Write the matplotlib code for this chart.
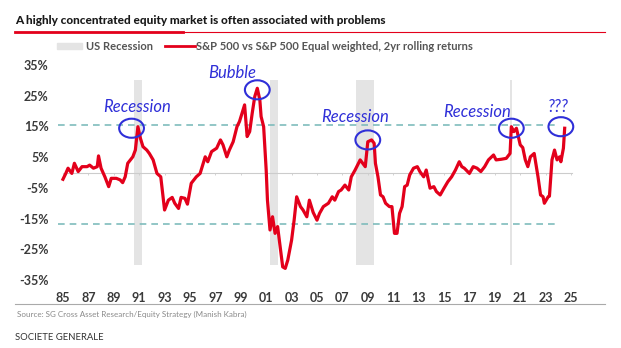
import numpy as np
import matplotlib
matplotlib.use("Agg")
import matplotlib.pyplot as plt
from matplotlib.patches import Ellipse, Rectangle
from matplotlib.lines import Line2D

plt.rcParams['font.family'] = ['Lato', 'DejaVu Sans']

# Rolling 2yr relative return, S&P 500 vs S&P 500 equal weighted (%)
years = [1985.0, 1985.2, 1985.4, 1985.7, 1985.9, 1986.2, 1986.5, 1986.9, 1987.1, 1987.4,
         1987.7, 1987.8, 1988.0, 1988.3, 1988.6, 1988.8, 1989.2, 1989.5, 1989.7, 1989.9,
         1990.1, 1990.5, 1990.7, 1990.9, 1991.1, 1991.3, 1991.6, 1991.8, 1992.1, 1992.4,
         1992.7, 1993.0, 1993.3, 1993.6, 1993.8, 1994.1, 1994.3, 1994.6, 1994.8, 1995.1,
         1995.5, 1995.8, 1996.2, 1996.4, 1996.7, 1997.1, 1997.4, 1997.6, 1997.9, 1998.1,
         1998.4, 1998.7, 1998.9, 1999.1, 1999.3, 1999.5, 1999.7, 1999.9, 2000.1, 2000.3,
         2000.5, 2000.6, 2000.8, 2001.0, 2001.1, 2001.3, 2001.5, 2001.7, 2001.9, 2002.1,
         2002.3, 2002.5, 2002.7, 2003.0, 2003.2, 2003.4, 2003.7, 2003.9, 2004.2, 2004.4,
         2004.7, 2005.0, 2005.2, 2005.5, 2005.9, 2006.2, 2006.4, 2006.7, 2006.9, 2007.2,
         2007.5, 2007.7, 2008.0, 2008.4, 2008.6, 2008.8, 2009.0, 2009.3, 2009.5, 2009.6,
         2009.8, 2010.0, 2010.2, 2010.4, 2010.7, 2010.9, 2011.1, 2011.3, 2011.5, 2011.7,
         2011.9, 2012.1, 2012.3, 2012.6, 2012.9, 2013.1, 2013.4, 2013.6, 2013.9, 2014.2,
         2014.4, 2014.7, 2015.0, 2015.3, 2015.6, 2015.9, 2016.2, 2016.4, 2016.6, 2017.0,
         2017.3, 2017.6, 2017.9, 2018.2, 2018.5, 2018.9, 2019.1, 2019.5, 2019.9, 2020.2,
         2020.3, 2020.5, 2020.7, 2021.0, 2021.2, 2021.4, 2021.6, 2021.8, 2022.1, 2022.4,
         2022.6, 2022.8, 2022.9, 2023.2, 2023.3, 2023.5, 2023.7, 2023.9, 2024.1, 2024.2,
         2024.4, 2024.5]
values = [-2.2, -0.5, 1.4, -0.3, 3.0, 0.3, 1.9, 1.9, 2.4, 1.4,
          1.9, 5.4, 1.4, -1.4, -4.6, -1.9, -1.9, -2.4, -3.3, -1.4,
          3.0, 5.1, 7.3, 14.9, 11.1, 8.4, 7.3, 6.2, 4.1, -0.3,
          -1.4, -12.2, -9.0, -8.1, -10.0, -11.7, -8.1, -8.4, -10.3, -3.5,
          -1.4, -0.3, 5.1, 3.5, 6.8, 7.9, 10.6, 9.0, 5.1, 7.3,
          10.0, 14.9, 16.6, 19.3, 22.0, 11.7, 13.3, 19.3, 24.7, 27.4,
          23.6, 18.2, 14.9, 0.8, -9.0, -18.7, -14.4, -19.8, -17.6, -24.2,
          -30.7, -31.2, -28.5, -22.0, -15.5, -7.9, -11.1, -12.2, -14.4, -9.0,
          -13.0, -15.5, -13.3, -11.1, -10.0, -7.9, -9.0, -6.2, -5.7, -4.1,
          -5.7, -1.4, 0.8, 4.1, 3.0, 1.9, 10.0, 10.6, 9.5, 3.0,
          -1.4, -7.3, -7.9, -10.0, -11.1, -11.1, -19.8, -19.8, -13.3, -11.1,
          -4.6, -4.1, -0.8, 1.4, 1.9, 0.3, -1.4, 0.8, -5.1, -4.6,
          -6.2, -7.3, -5.1, -3.0, -1.4, 0.8, 3.5, 1.9, 1.4, -0.3,
          1.9, 1.4, 0.3, 1.9, 4.1, 5.7, 4.1, 4.3, 4.6, 6.2,
          14.9, 13.3, 14.4, 9.0, 8.1, 4.1, 1.9, 5.1, 6.2, -1.4,
          -7.3, -7.9, -10.0, -7.9, -7.7, 4.1, 7.3, 4.1, 5.1, 3.5,
          7.9, 14.4]

# US recessions (start, end)
recessions = [(1990.6, 1991.25), (2001.3, 2001.95), (2008.05, 2009.5), (2020.2, 2020.35)]

upper_band = 15.5
lower_band = -16.8

tick_years = list(range(1985, 2026, 2))
tick_labels = ["%02d" % (y % 100) for y in tick_years]
y_ticks = [35, 25, 15, 5, -5, -15, -25, -35]

# annotations: (label, text_x, text_y, circle_x, circle_y)
notes = [("Recession", 1990.8, 21.3, 1990.4, 14.4),
         ("Bubble", 1998.3, 32.3, 2000.3, 26.9),
         ("Recession", 2008.0, 18.2, 2009.0, 10.6),
         ("Recession", 2017.6, 19.6, 2020.3, 14.4),
         ("???", 2024.0, 21.2, 2024.2, 14.9)]

W, H = 621, 348
fig = plt.figure(figsize=(W / 100, H / 100), dpi=100)
ax = fig.add_axes([50 / W, 1 - 285 / H, 535 / W, 225 / H])
ax.set_xlim(1983.98, 2026.1)
ax.set_ylim(-36.6, 36.6)

for s, e in recessions:
    ax.fill_between([s, e], -30, 30, color='#e4e4e4', linewidth=0, zorder=1)

ax.plot([1985, 2025.1], [0, 0], color='#cccccc', lw=0.8, zorder=2)
ax.vlines(tick_years, -0.7, 0, color='#cccccc', lw=0.6, zorder=2)

dash_col = '#7fbcbc'
ax.plot([1984.6, 2024.0], [upper_band, upper_band], color=dash_col, lw=1.2,
        dashes=(4, 3), zorder=2)
ax.plot([1984.6, 2024.0], [lower_band, lower_band], color=dash_col, lw=1.2,
        dashes=(4, 3), zorder=2)

red = '#e3001b'
ax.plot(years, values, color=red, lw=2.3, zorder=3, solid_joinstyle='round')

blue = '#2f2fd8'
for label, tx, ty, cx, cy in notes:
    ax.add_patch(Ellipse((cx, cy), 1.95, 6.2, fill=False, edgecolor=blue, lw=1.5, zorder=4))
    ax.text(tx, ty, label, color=blue, fontsize=12, style='italic',
            ha='center', va='center', zorder=5)

ax.set_xticks(tick_years)
ax.set_xticklabels(tick_labels)
ax.set_yticks(y_ticks)
ax.set_yticklabels(["%d%%" % v for v in y_ticks])
ax.tick_params(length=0, labelsize=9, labelcolor='#3a3a3a')
ax.tick_params(axis='x', pad=5)
ax.tick_params(axis='y', pad=1)
for lbl in ax.get_xticklabels() + ax.get_yticklabels():
    lbl.set_fontweight('bold')
for sp in ax.spines.values():
    sp.set_visible(False)

# header
fig.text(15 / W, 1 - 20 / H, "A highly concentrated equity market is often associated with problems",
         fontsize=8.5, fontweight='black', color='#1a1a1a', va='center', ha='left')
fig.add_artist(Line2D([15 / W, 605 / W], [1 - 32 / H, 1 - 32 / H], color=red, lw=0.8))
fig.add_artist(Line2D([15 / W, 183 / W], [1 - 32 / H, 1 - 32 / H], color=red, lw=2.0))

# legend
fig.add_artist(Rectangle((57 / W, 1 - 49 / H), 25 / W, 6 / H, color='#e4e4e4', transform=fig.transFigure))
fig.text(86 / W, 1 - 46 / H, "US Recession", fontsize=8, fontweight='bold', color='#555555', va='center')
fig.add_artist(Line2D([165 / W, 195 / W], [1 - 46 / H, 1 - 46 / H], color=red, lw=2.0))
fig.text(196 / W, 1 - 46 / H, "S&P 500 vs S&P 500 Equal weighted, 2yr rolling returns",
         fontsize=8, fontweight='bold', color='#555555', va='center')

# footer
fig.add_artist(Line2D([15 / W, 605 / W], [1 - 304 / H, 1 - 304 / H], color='#aaaaaa', lw=0.8))
fig.text(17 / W, 1 - 314 / H, "Source: SG Cross Asset Research/Equity Strategy (Manish Kabra)",
         fontsize=5.8, color='#8a8a8a', va='center')
fig.text(15 / W, 1 - 338 / H, "SOCIETE GENERALE", fontsize=6.8, color='#333333', va='center')

fig.savefig("out.png", dpi=100, facecolor='white')
